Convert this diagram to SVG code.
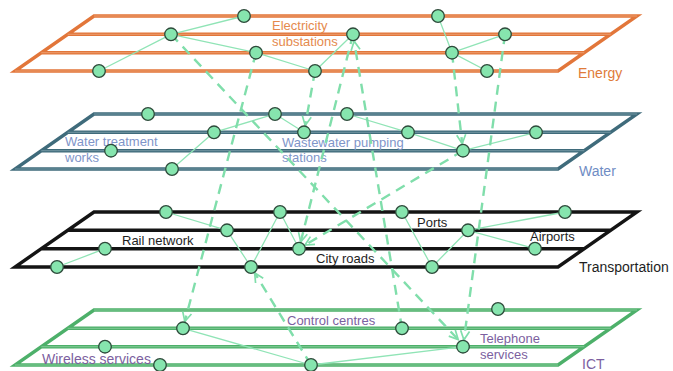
<svg xmlns="http://www.w3.org/2000/svg" width="673" height="371" viewBox="0 0 673 371">
<defs>
<style>
.pl{fill:none;stroke-width:3.4;stroke-linejoin:miter}
.hi{fill:none;stroke-width:0.9;opacity:0.55}
.en{stroke:#E2763A}.enh{stroke:#F6C6A4}
.wa{stroke:#3F6B7B}.wah{stroke:#A9C3CC}
.tr{stroke:#141414}.trh{stroke:#777}
.ic{stroke:#4DB06A}.ich{stroke:#B5E6C2}
.node circle{fill:#86E5AE;stroke:#2D4A3A;stroke-width:1.3}
.e{stroke:#90E4B6;stroke-width:1.3;fill:none}
.d{stroke:#80DEAB;stroke-width:2.4;fill:none;stroke-dasharray:10 7;marker-end:url(#ah)}
text{font-family:"Liberation Sans",Arial,sans-serif;font-size:13px}
.te{fill:#E58A4E}.tw{fill:#7F95C9}.tt{fill:#1E1E1E}.ti{fill:#7C5FA0}
</style>
<marker id="ah" markerUnits="userSpaceOnUse" markerWidth="12" markerHeight="12" refX="10" refY="5" orient="auto" viewBox="0 0 12 10">
<path d="M1,0.5 L10,5 L1,9.5" fill="none" stroke="#80DEAB" stroke-width="1.7"/>
</marker>
</defs>

<g id="plane-energy">
<path class="pl en" d="M94,16 L637,16 L558,71 L15,71 Z M67.7,34.3 L610.7,34.3 M41.3,52.7 L584.3,52.7"/>
<path class="hi enh" d="M94,16 L637,16 M67.7,34.3 L610.7,34.3 M41.3,52.7 L584.3,52.7 M15,71 L558,71"/>
<text class="te" x="272" y="30">Electricity</text>
<text class="te" x="272" y="46">substations</text>
<text x="578" y="78" style="fill:#E07B39;font-size:14px">Energy</text>
</g>
<g id="plane-water">
<path class="pl wa" d="M94,114 L637,114 L558,169 L15,169 Z M67.7,132.3 L610.7,132.3 M41.3,150.7 L584.3,150.7"/>
<path class="hi wah" d="M94,114 L637,114 M67.7,132.3 L610.7,132.3 M41.3,150.7 L584.3,150.7 M15,169 L558,169"/>
<text class="tw" x="65" y="146">Water treatment</text>
<text class="tw" x="65" y="162">works</text>
<text class="tw" x="282" y="147">Wastewater pumping</text>
<text class="tw" x="282" y="162">stations</text>
<text x="579" y="176" style="fill:#6F8CC4;font-size:14px">Water</text>
</g>
<g id="plane-transportation">
<path class="pl tr" d="M94,212 L637,212 L558,267 L15,267 Z M67.7,230.3 L610.7,230.3 M41.3,248.7 L584.3,248.7"/>
<text class="tt" x="122" y="245">Rail network</text>
<text class="tt" x="316" y="263">City roads</text>
<text class="tt" x="417" y="227">Ports</text>
<text class="tt" x="530" y="241">Airports</text>
<text x="579" y="272" style="fill:#1E1E1E;font-size:14px">Transportation</text>
</g>
<g id="plane-ict">
<path class="pl ic" d="M94,310 L637,310 L558,365 L15,365 Z M67.7,328.3 L610.7,328.3 M41.3,346.7 L584.3,346.7"/>
<path class="hi ich" d="M94,310 L637,310 M67.7,328.3 L610.7,328.3 M41.3,346.7 L584.3,346.7 M15,365 L558,365"/>
<text class="ti" x="287" y="325">Control centres</text>
<text class="ti" x="42" y="364" style="font-size:14px">Wireless services</text>
<text class="ti" x="480" y="343">Telephone</text>
<text class="ti" x="480" y="359">services</text>
<text x="582" y="369" style="fill:#7C5FA0;font-size:14px">ICT</text>
</g>

<g id="connectors">
<path class="e" d="M99,71 L171,34.3 M171,34.3 L244,16 M171,34.3 L256,52.7 M256,52.7 L315,71 M315,71 L353,34.3 M438,16 L452,52.7 M452,52.7 L505,34.3 M452,52.7 L487,71"/>
<path class="e" d="M172,169 L214,132.3 M214,132.3 L275,114 M275,114 L304,132.3 M347,114 L408,132.3 M408,132.3 L463,150.7 M463,150.7 L536,132.3"/>
<path class="e" d="M57,267 L105,248.7 M166,212 L227,230.3 M227,230.3 L251,267 M251,267 L280,212 M280,212 L299,248.7 M402,212 L432,267 M432,267 L468,230.3 M468,230.3 L565,212 M468,230.3 L535,248.7"/>
<path class="e" d="M183,328.3 L311,365 M311,365 L463,346.7"/>
<path class="d" d="M171,34.3 L458.2,339.6"/>
<path class="d" d="M256,52.7 L184.8,321.5"/>
<path class="d" d="M315,71 L305.2,125.4"/>
<path class="d" d="M402,328.3 L354.1,41.2"/>
<path class="d" d="M353,34.3 L300.7,241.9"/>
<path class="d" d="M452,52.7 L462.2,143.7"/>
<path class="d" d="M505,34.3 L463.9,339.8"/>
<path class="d" d="M463,150.7 L305,245.1"/>
<path class="d" d="M311,365 L254.7,273"/>
</g>

<g id="n-e1" class="node"><circle cx="244" cy="16" r="6.3"/></g>
<g id="n-e2" class="node"><circle cx="171" cy="34.3" r="6.3"/></g>
<g id="n-e3" class="node"><circle cx="256" cy="52.7" r="6.3"/></g>
<g id="n-e4" class="node"><circle cx="99" cy="71" r="6.3"/></g>
<g id="n-e5" class="node"><circle cx="315" cy="71" r="6.3"/></g>
<g id="n-e6" class="node"><circle cx="438" cy="16" r="6.3"/></g>
<g id="n-e7" class="node"><circle cx="353" cy="34.3" r="6.3"/></g>
<g id="n-e8" class="node"><circle cx="505" cy="34.3" r="6.3"/></g>
<g id="n-e9" class="node"><circle cx="452" cy="52.7" r="6.3"/></g>
<g id="n-e10" class="node"><circle cx="487" cy="71" r="6.3"/></g>

<g id="n-w1" class="node"><circle cx="148" cy="114" r="6.3"/></g>
<g id="n-w2" class="node"><circle cx="275" cy="114" r="6.3"/></g>
<g id="n-w3" class="node"><circle cx="347" cy="114" r="6.3"/></g>
<g id="n-w4" class="node"><circle cx="214" cy="132.3" r="6.3"/></g>
<g id="n-w5" class="node"><circle cx="304" cy="132.3" r="6.3"/></g>
<g id="n-w6" class="node"><circle cx="408" cy="132.3" r="6.3"/></g>
<g id="n-w7" class="node"><circle cx="536" cy="132.3" r="6.3"/></g>
<g id="n-w8" class="node"><circle cx="111" cy="150.7" r="6.3"/></g>
<g id="n-w9" class="node"><circle cx="463" cy="150.7" r="6.3"/></g>
<g id="n-w10" class="node"><circle cx="172" cy="169" r="6.3"/></g>

<g id="n-t1" class="node"><circle cx="166" cy="212" r="6.3"/></g>
<g id="n-t2" class="node"><circle cx="280" cy="212" r="6.3"/></g>
<g id="n-t3" class="node"><circle cx="402" cy="212" r="6.3"/></g>
<g id="n-t4" class="node"><circle cx="565" cy="212" r="6.3"/></g>
<g id="n-t5" class="node"><circle cx="227" cy="230.3" r="6.3"/></g>
<g id="n-t6" class="node"><circle cx="468" cy="230.3" r="6.3"/></g>
<g id="n-t7" class="node"><circle cx="105" cy="248.7" r="6.3"/></g>
<g id="n-t8" class="node"><circle cx="299" cy="248.7" r="6.3"/></g>
<g id="n-t9" class="node"><circle cx="535" cy="248.7" r="6.3"/></g>
<g id="n-t10" class="node"><circle cx="57" cy="267" r="6.3"/></g>
<g id="n-t11" class="node"><circle cx="251" cy="267" r="6.3"/></g>
<g id="n-t12" class="node"><circle cx="432" cy="267" r="6.3"/></g>

<g id="n-i1" class="node"><circle cx="498" cy="309" r="6.3"/></g>
<g id="n-i2" class="node"><circle cx="183" cy="328.3" r="6.3"/></g>
<g id="n-i3" class="node"><circle cx="402" cy="328.3" r="6.3"/></g>
<g id="n-i4" class="node"><circle cx="105" cy="346.7" r="6.3"/></g>
<g id="n-i5" class="node"><circle cx="463" cy="346.7" r="6.3"/></g>
<g id="n-i6" class="node"><circle cx="160" cy="365" r="6.3"/></g>
<g id="n-i7" class="node"><circle cx="311" cy="365" r="6.3"/></g>
</svg>
